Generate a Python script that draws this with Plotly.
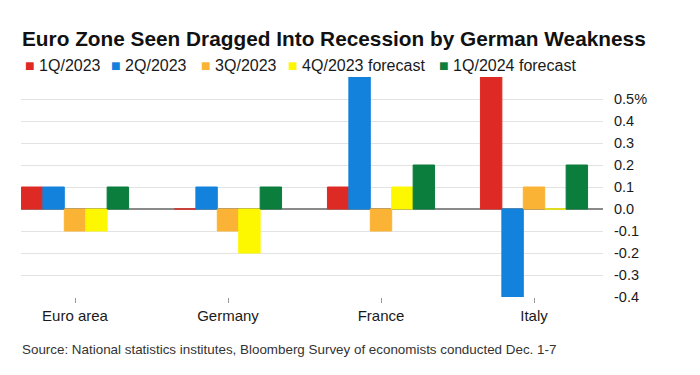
import plotly.graph_objects as go

categories = ["Euro area", "Germany", "France", "Italy"]
series_names = ["1Q/2023", "2Q/2023", "3Q/2023", "4Q/2023 forecast", "1Q/2024 forecast"]
q1_2023 = [0.1, 0.0, 0.1, 0.6]
q2_2023 = [0.1, 0.1, 0.6, -0.4]
q3_2023 = [-0.1, -0.1, -0.1, 0.1]
q4_2023_forecast = [-0.1, -0.2, 0.1, 0.0]
q1_2024_forecast = [0.1, 0.1, 0.2, 0.2]
series_values = [q1_2023, q2_2023, q3_2023, q4_2023_forecast, q1_2024_forecast]
colors = ["#dd2a24", "#1282dc", "#fbb335", "#fdf700", "#0b7d3d"]

y_tickvals = [-0.4, -0.3, -0.2, -0.1, 0.0, 0.1, 0.2, 0.3, 0.4, 0.5]
y_ticktext = ["-0.4", "-0.3", "-0.2", "-0.1", "0.0", "0.1", "0.2", "0.3", "0.4", "0.5%"]

BODY = "Liberation Sans, Arial, sans-serif"

fig = go.Figure()
for name, vals, col in zip(series_names, series_values, colors):
    fig.add_trace(go.Bar(
        x=categories, y=vals, name=name,
        marker=dict(color=col, line=dict(color=col, width=1)),
        showlegend=False,
    ))

OFF = 8  # page body margin
W, H = 700, 375
# target page coordinates of the plot area
PL, PR, PT, PB = 21, 603, 77, 297
L, T = PL - OFF, PT - OFF
R, B = W - (PR - OFF), H - (PB - OFF)
pw = PR - PL
ph = PB - PT

def px(x):
    return (x - PL) / pw

def py(y):
    return (PB - y) / ph

annotations = []
legend_x = [23, 109, 199, 286, 437]
for name, col, x0 in zip(series_names, colors, legend_x):
    annotations.append(dict(
        text=f"<span style='color:{col}'>■</span> {name}",
        x=px(x0), y=py(65), xref="paper", yref="paper",
        xanchor="left", yanchor="middle", showarrow=False,
        font=dict(family=BODY, size=16, color="#1a1a1a"),
    ))
annotations.append(dict(
    text="Source: National statistics institutes, Bloomberg Survey of economists conducted Dec. 1-7",
    x=px(20), y=py(349), xref="paper", yref="paper",
    xanchor="left", yanchor="middle", showarrow=False,
    font=dict(family=BODY, size=13.4, color="#333333"),
))

fig.update_layout(
    width=W, height=H,
    margin=dict(l=L, r=R, t=T, b=B, pad=0),
    paper_bgcolor="white", plot_bgcolor="white",
    barmode="group", bargap=0.3, bargroupgap=0,
    title=dict(
        text="<b>Euro Zone Seen Dragged Into Recession by German Weakness</b>",
        x=(22 - OFF) / W, xref="container", xanchor="left",
        y=1 - (39 - OFF) / H, yref="container", yanchor="middle",
        font=dict(family=BODY, size=20.8, color="#111111"),
    ),
    annotations=annotations,
    xaxis=dict(
        range=[-0.353, 3.451],
        showgrid=False, showline=False, zeroline=False,
        ticks="outside", ticklen=5, tickcolor="#999999", tickwidth=1,
        tickfont=dict(family=BODY, size=15, color="#1a1a1a"),
    ),
    yaxis=dict(
        side="right", range=[-0.4, 0.6],
        tickvals=y_tickvals, ticktext=y_ticktext,
        showgrid=True, gridcolor="#e3e3e3", gridwidth=1,
        zeroline=True, zerolinecolor="#8a8a8a", zerolinewidth=1.5,
        showline=False, ticks="", ticklabelstandoff=10,
        tickfont=dict(family=BODY, size=14.5, color="#1a1a1a"),
    ),
)

fig.write_html("out.html")
